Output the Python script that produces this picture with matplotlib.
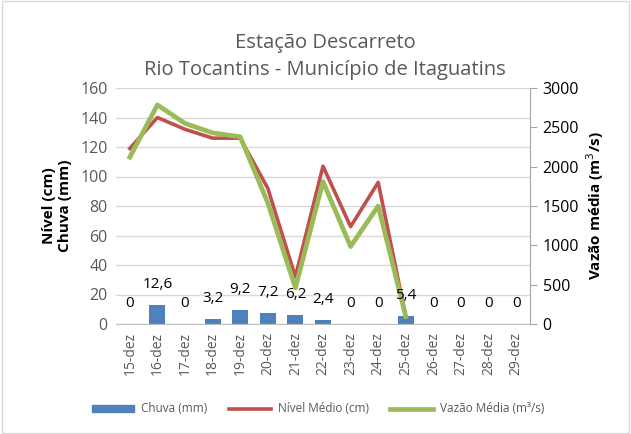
import numpy as np
import matplotlib.pyplot as plt
from matplotlib.patches import Patch

# Data
dias = ['15-dez', '16-dez', '17-dez', '18-dez', '19-dez', '20-dez', '21-dez', '22-dez',
        '23-dez', '24-dez', '25-dez', '26-dez', '27-dez', '28-dez', '29-dez']
chuva = [0, 12.6, 0, 3.2, 9.2, 7.2, 6.2, 2.4, 0, 0, 5.4, 0, 0, 0, 0]
nivel = [119, 140, 132, 126, 126, 92, 32, 107, 66, 96, 5]
vazao = [2120, 2785, 2550, 2430, 2380, 1540, 460, 1810, 985, 1500, 95]

azul = '#4F81BD'
vermelho = '#C0504D'
verde = '#9BBB59'
cinza = '#595959'

plt.rcParams['font.family'] = ['Open Sans', 'DejaVu Sans']

fig = plt.figure(figsize=(6.31, 4.34), dpi=100)
ax = fig.add_axes([116 / 631, 1 - 324 / 434, 414 / 631, 236 / 434])
ax2 = ax.twinx()

x = np.arange(len(dias))
ax.bar(x, chuva, width=0.58, color=azul, zorder=2)

xl = x[:len(nivel)]
ln1, = ax.plot(xl, nivel, color=vermelho, lw=2.6, zorder=3, label='Nível Médio (cm)')
ln2, = ax2.plot(xl, vazao, color=verde, lw=3.4, zorder=3, label='Vazão Média (m³/s)')

for xi, v in zip(x, chuva):
    txt = ('%g' % v).replace('.', ',')
    ax2.annotate(txt, (xi, v * 3000 / 160), xytext=(0, 15), textcoords='offset points',
                 ha='center', va='center', fontsize=11, color='black', zorder=5)

ax.set_xlim(-0.5, len(dias) - 0.5)
ax.set_ylim(0, 160)
ax.set_yticks(np.arange(0, 161, 20))
ax2.set_ylim(0, 3000)
ax2.set_yticks(np.arange(0, 3001, 500))
ax.yaxis.grid(True, color='#D9D9D9', lw=1)
ax.set_axisbelow(True)

ax.set_xticks(x)
ax.set_xticklabels(dias, rotation=90, fontsize=10, color=cinza)
ax.tick_params(axis='x', length=0, pad=6)
ax.tick_params(axis='y', length=0, labelsize=11.5, colors=cinza, pad=6)
ax2.tick_params(axis='y', labelsize=11.5, colors='black', length=5, color='#A6A6A6', pad=4)

for s in ['top', 'left', 'right']:
    ax.spines[s].set_visible(False)
ax.spines['bottom'].set_color('#BFBFBF')
for s in ['top', 'left', 'bottom']:
    ax2.spines[s].set_visible(False)
ax2.spines['right'].set_color('#A6A6A6')

ax.set_ylabel('Nível (cm)\nChuva (mm)', fontsize=11, fontweight='bold', labelpad=6)
ax2.set_ylabel('Vazão média (m$^3$/s)', fontsize=11, fontweight='bold', labelpad=4)

fig.text(325 / 631, 1 - 43 / 434, 'Estação Descarreto', ha='center', va='center',
         fontsize=14.5, color=cinza)
fig.text(325 / 631, 1 - 70 / 434, 'Rio Tocantins - Município de Itaguatins', ha='center',
         va='center', fontsize=14.5, color=cinza)

handles = [Patch(color=azul, label='Chuva (mm)'), ln1, ln2]
fig.legend(handles, [h.get_label() for h in handles], loc='center',
           bbox_to_anchor=(318 / 631, 1 - 409 / 434), ncol=3, frameon=False,
           fontsize=8.5, labelcolor=cinza, handlelength=3.6, columnspacing=1.8,
           handleheight=0.55, handletextpad=0.6)

border = plt.Rectangle((0.003, 0.003), 0.994, 0.994, transform=fig.transFigure,
                       fill=False, edgecolor='#D9D9D9', lw=1)
fig.patches.append(border)

fig.savefig('out.png', dpi=100)
